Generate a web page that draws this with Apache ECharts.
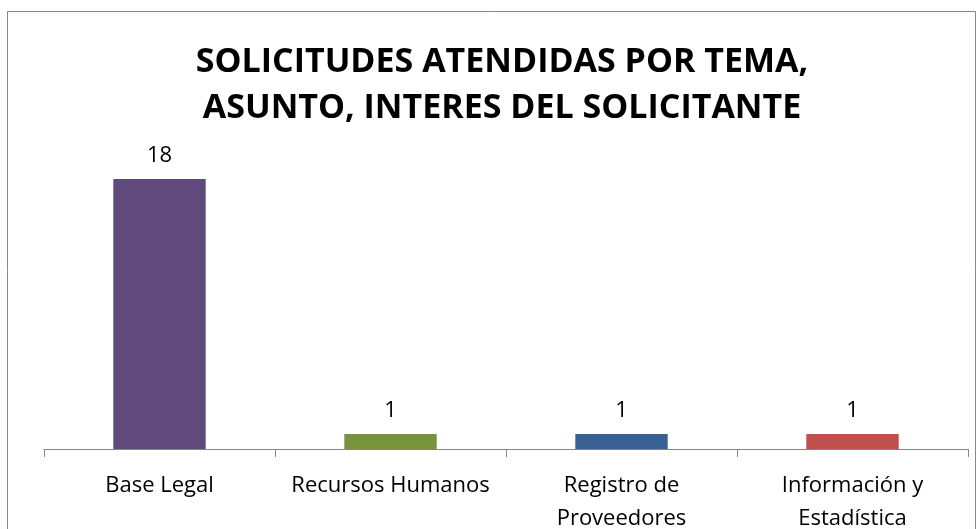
<!DOCTYPE html>
<html>
<head>
<meta charset="utf-8">
<script src="https://cdn.jsdelivr.net/npm/echarts@6/dist/echarts.min.js"></script>
<style>
html,body{margin:0;padding:0;background:#fff;}
#chart{width:977px;height:529px;}
</style>
</head>
<body>
<div id="chart"></div>
<script>
const titleText = 'SOLICITUDES ATENDIDAS POR TEMA,\nASUNTO, INTERES DEL SOLICITANTE';
const categories = ['Base Legal', 'Recursos Humanos', 'Registro de\nProveedores', 'Información y\nEstadística'];
const values = [18, 1, 1, 1];
const barColors = ['#5f4a7b', '#77933c', '#386094', '#c0504d'];

const chart = echarts.init(document.getElementById('chart'));
chart.setOption({
  animation: false,
  backgroundColor: '#fff',
  graphic: [{
    type: 'rect',
    shape: { x: 7.5, y: 11.5, width: 968, height: 530 },
    style: { fill: 'none', stroke: '#868686', lineWidth: 1 },
    silent: true
  }],
  title: {
    text: titleText,
    left: 497,
    textAlign: 'center',
    top: 34,
    textStyle: {
      fontFamily: 'Open Sans',
      fontWeight: 'bold',
      fontSize: 34,
      lineHeight: 46,
      color: '#000'
    }
  },
  grid: { left: 44, right: 9, top: 149, bottom: 80, outerBoundsMode: 'none', containLabel: false },
  xAxis: {
    type: 'category',
    data: categories,
    boundaryGap: true,
    axisLine: { lineStyle: { color: '#868686', width: 1 } },
    axisTick: { show: true, length: 8, lineStyle: { color: '#868686' } },
    axisLabel: {
      fontFamily: 'Open Sans',
      fontSize: 22,
      lineHeight: 33,
      color: '#000',
      margin: 20,
      interval: 0
    }
  },
  yAxis: {
    type: 'value',
    min: 0,
    max: 20,
    show: false,
    splitLine: { show: false }
  },
  series: [{
    type: 'bar',
    data: values.map((v, i) => ({ value: v, itemStyle: { color: barColors[i] } })),
    barWidth: '40%',
    label: {
      show: true,
      position: 'top',
      distance: 12,
      fontFamily: 'Open Sans',
      fontSize: 22,
      color: '#000'
    }
  }]
});
</script>
</body>
</html>
